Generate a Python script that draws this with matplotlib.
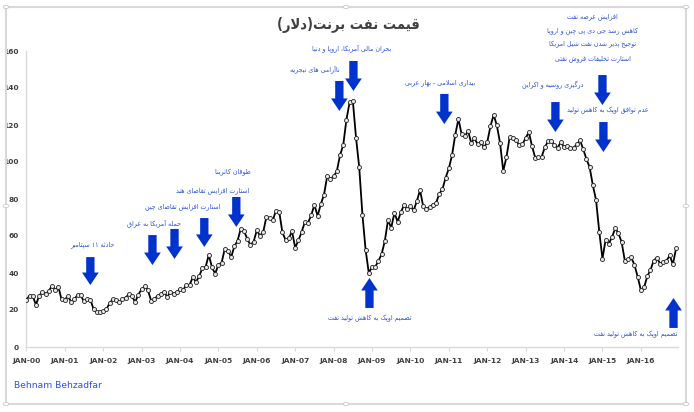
import numpy as np
import matplotlib
matplotlib.use('Agg')
import matplotlib.pyplot as plt
from matplotlib import font_manager
from matplotlib.patches import Rectangle, Circle

# Brent monthly average price (USD), Jan 2000 - Dec 2016
brent_2000 = [25.5, 27.8, 27.5, 22.8, 27.7, 29.8, 28.7, 30.2, 33.1, 31.0, 32.6, 25.7]
brent_2001 = [25.6, 27.5, 24.5, 25.7, 28.3, 27.9, 24.6, 25.7, 25.6, 20.5, 18.8, 18.7]
brent_2002 = [19.4, 20.3, 23.7, 25.7, 25.4, 24.1, 25.7, 26.7, 28.4, 27.5, 24.3, 28.3]
brent_2003 = [31.2, 32.8, 30.6, 25.0, 25.9, 27.7, 28.4, 29.9, 27.1, 29.6, 28.8, 29.8]
brent_2004 = [31.3, 30.9, 33.6, 33.6, 37.6, 35.2, 38.2, 42.7, 43.2, 49.8, 43.1, 39.6]
brent_2005 = [44.5, 45.5, 53.1, 51.9, 48.7, 54.4, 57.5, 64.0, 62.9, 58.5, 55.2, 56.9]
brent_2006 = [63.0, 60.2, 62.1, 70.3, 69.8, 68.6, 73.7, 73.2, 62.0, 57.8, 58.8, 62.5]
brent_2007 = [53.7, 57.6, 62.1, 67.5, 67.2, 71.1, 76.9, 70.8, 77.2, 82.3, 92.4, 90.9]
brent_2008 = [92.2, 95.0, 103.6, 109.1, 122.8, 132.3, 133.2, 113.2, 97.2, 71.6, 52.5, 40.0]
brent_2009 = [43.4, 43.3, 46.5, 50.2, 57.3, 68.6, 64.4, 72.5, 67.7, 72.8, 76.7, 74.5]
brent_2010 = [76.2, 73.8, 78.8, 84.8, 76.0, 74.8, 75.6, 77.0, 77.8, 82.7, 85.3, 91.5]
brent_2011 = [96.5, 103.7, 114.6, 123.3, 115.0, 113.8, 117.0, 110.2, 112.8, 109.6, 110.8, 107.9]
brent_2012 = [110.7, 119.3, 125.5, 119.8, 110.3, 95.2, 102.6, 113.4, 112.9, 111.7, 109.1, 109.5]
brent_2013 = [113.0, 116.1, 108.5, 102.3, 102.6, 102.9, 107.9, 111.3, 111.6, 109.1, 107.8, 110.8]
brent_2014 = [108.1, 108.9, 107.5, 107.8, 109.5, 111.8, 106.8, 101.6, 97.1, 87.4, 79.4, 62.3]
brent_2015 = [47.8, 58.1, 55.9, 59.5, 64.1, 61.5, 56.6, 46.5, 47.6, 48.4, 44.3, 38.0]
brent_2016 = [30.7, 32.2, 38.2, 41.6, 46.7, 48.3, 45.0, 45.8, 46.6, 49.5, 44.7, 53.3]

prices = (brent_2000 + brent_2001 + brent_2002 + brent_2003 + brent_2004 + brent_2005 +
          brent_2006 + brent_2007 + brent_2008 + brent_2009 + brent_2010 + brent_2011 +
          brent_2012 + brent_2013 + brent_2014 + brent_2015 + brent_2016)
years = list(range(2000, 2017))
tick_labels = ['JAN-%02d' % (y % 100) for y in years]
y_ticks = [0, 20, 40, 60, 80, 100, 120, 140, 160]

title_text = 'قیمت نفت برنت(دلار)'

# annotation text: (text, month index, price level, horizontal alignment)
notes = [
    ('حادثه ۱۱ سپتامبر', 20.6, 55.1, 'center'),
    ('حمله آمریکا به عراق', 40.0, 67.0, 'center'),
    ('استارت افزایش تقاضای چین', 48.8, 75.7, 'center'),
    ('استارت افزایش تقاضای هند', 58.1, 84.3, 'center'),
    ('طوفان کاترینا', 64.4, 94.1, 'center'),
    ('ناآرامی های نیجریه', 90.0, 150.3, 'center'),
    ('بحران مالی آمریکا، اروپا و دنیا', 101.6, 161.6, 'center'),
    ('تصمیم اوپک به کاهش تولید نفت', 107.2, 15.7, 'center'),
    ('بیداری اسلامی - بهار عربی', 129.4, 142.7, 'center'),
    ('درگیری روسیه و اکراین', 164.4, 141.6, 'center'),
    ('افزایش عرضه نفت', 176.9, 178.4, 'center'),
    ('کاهش رشد جی دی پی چین و اروپا', 176.9, 170.8, 'center'),
    ('توجیح پذیر شدن نفت شیل امریکا', 176.9, 163.8, 'center'),
    ('استارت تخلیفات فروش نفتی', 176.9, 155.7, 'center'),
    ('عدم توافق اوپک به کاهش تولید', 181.6, 128.1, 'center'),
    ('تصمیم اوپک به کاهش تولید نفت', 203.6, 7.0, 'right'),
]

# arrows: (month index, tail level, tip level)
arrows = [
    (20.0, 48.6, 33.5),
    (39.4, 60.5, 44.3),
    (46.3, 63.8, 47.6),
    (55.6, 69.7, 54.1),
    (65.6, 81.1, 64.9),
    (97.8, 143.8, 127.6),
    (102.2, 154.6, 138.4),
    (107.2, 21.1, 37.3),
    (130.6, 136.8, 120.5),
    (165.3, 132.4, 116.2),
    (180.0, 147.0, 130.8),
    (180.3, 121.6, 105.4),
    (202.2, 10.3, 26.5),
]

# --- minimal Persian shaping (matplotlib 3.10 has no complex text layout) ---
# char: (isolated, final, initial, medial); None -> does not join forward
FORMS = {
    'ا': (0xFE8D, 0xFE8E, None, None), 'آ': (0xFE81, 0xFE82, None, None),
    'ب': (0xFE8F, 0xFE90, 0xFE91, 0xFE92), 'پ': (0xFB56, 0xFB57, 0xFB58, 0xFB59),
    'ت': (0xFE95, 0xFE96, 0xFE97, 0xFE98), 'ث': (0xFE99, 0xFE9A, 0xFE9B, 0xFE9C),
    'ج': (0xFE9D, 0xFE9E, 0xFE9F, 0xFEA0), 'چ': (0xFB7A, 0xFB7B, 0xFB7C, 0xFB7D),
    'ح': (0xFEA1, 0xFEA2, 0xFEA3, 0xFEA4), 'خ': (0xFEA5, 0xFEA6, 0xFEA7, 0xFEA8),
    'د': (0xFEA9, 0xFEAA, None, None), 'ذ': (0xFEAB, 0xFEAC, None, None),
    'ر': (0xFEAD, 0xFEAE, None, None), 'ز': (0xFEAF, 0xFEB0, None, None),
    'ژ': (0xFB8A, 0xFB8B, None, None),
    'س': (0xFEB1, 0xFEB2, 0xFEB3, 0xFEB4), 'ش': (0xFEB5, 0xFEB6, 0xFEB7, 0xFEB8),
    'ص': (0xFEB9, 0xFEBA, 0xFEBB, 0xFEBC), 'ض': (0xFEBD, 0xFEBE, 0xFEBF, 0xFEC0),
    'ط': (0xFEC1, 0xFEC2, 0xFEC3, 0xFEC4), 'ظ': (0xFEC5, 0xFEC6, 0xFEC7, 0xFEC8),
    'ع': (0xFEC9, 0xFECA, 0xFECB, 0xFECC), 'غ': (0xFECD, 0xFECE, 0xFECF, 0xFED0),
    'ف': (0xFED1, 0xFED2, 0xFED3, 0xFED4), 'ق': (0xFED5, 0xFED6, 0xFED7, 0xFED8),
    'ک': (0xFB8E, 0xFB8F, 0xFB90, 0xFB91), 'گ': (0xFB92, 0xFB93, 0xFB94, 0xFB95),
    'ل': (0xFEDD, 0xFEDE, 0xFEDF, 0xFEE0), 'م': (0xFEE1, 0xFEE2, 0xFEE3, 0xFEE4),
    'ن': (0xFEE5, 0xFEE6, 0xFEE7, 0xFEE8), 'ه': (0xFEE9, 0xFEEA, 0xFEEB, 0xFEEC),
    'و': (0xFEED, 0xFEEE, None, None), 'ی': (0xFBFC, 0xFBFD, 0xFBFE, 0xFBFF),
}
LAM_ALEF = {'ا': (0xFEFB, 0xFEFC), 'آ': (0xFEF5, 0xFEF6)}
MIRROR = {'(': ')', ')': '('}


def fa(text):
    out = []
    i = 0
    n = len(text)
    while i < n:
        c = text[i]
        if c not in FORMS:
            out.append(c)
            i += 1
            continue
        prev = text[i - 1] if i > 0 else ''
        join_prev = prev in FORMS and FORMS[prev][2] is not None
        nxt = text[i + 1] if i + 1 < n else ''
        if c == 'ل' and nxt in LAM_ALEF:
            out.append(chr(LAM_ALEF[nxt][1 if join_prev else 0]))
            i += 2
            continue
        join_next = FORMS[c][2] is not None and nxt in FORMS
        iso, fin, ini, med = FORMS[c]
        if join_prev and join_next:
            code = med
        elif join_prev:
            code = fin
        elif join_next:
            code = ini
        else:
            code = iso
        out.append(chr(code))
        i += 1
    return ''.join(MIRROR.get(ch, ch) for ch in reversed(out))


plt.rcParams['font.family'] = ['DejaVu Sans']
narrow = font_manager.FontProperties(family='DejaVu Sans', stretch='condensed')
narrow_bold = font_manager.FontProperties(family='DejaVu Sans', stretch='condensed', weight='bold')

fig = plt.figure(figsize=(6.94, 4.12), dpi=100)
W, H = 694, 412

# chart frame (light gray) with handles
fig.patches.append(Rectangle((6 / W, 8 / H), 680 / W, 397 / H, transform=fig.transFigure,
                             fill=False, edgecolor='#d9d9d9', linewidth=1.5))
for hx, hy in [(6, 8), (6, 206), (6, 405), (686, 8), (686, 405), (346, 405), (346, 8), (686, 206)]:
    fig.patches.append(Circle((hx / W, hy / H), 0.004, transform=fig.transFigure,
                              facecolor='white', edgecolor='#c8c8c8', linewidth=0.6))

ax = fig.add_axes([25.7 / W, 1 - 347 / H, (678 - 25.7) / W, (347 - 51) / H])

x = np.arange(len(prices))
ax.plot(x, prices, color='black', linewidth=1.3, marker='o', markersize=2.9,
        markerfacecolor='#e8e8e8', markeredgecolor='#202020', markeredgewidth=0.6, zorder=3)

ax.set_xlim(-0.2, 203.6)
ax.set_ylim(0, 160)
ax.set_xticks([12 * k for k in range(len(years))])
ax.set_xticklabels(tick_labels)
ax.set_yticks(y_ticks)
ax.tick_params(axis='x', length=3, color='#d9d9d9', labelsize=5.4, labelcolor='#404040', pad=5)
ax.tick_params(axis='y', length=0, labelsize=5.3, labelcolor='#404040', pad=5)
for lab in ax.get_xticklabels() + ax.get_yticklabels():
    lab.set_fontweight('bold')
for side in ['top', 'right']:
    ax.spines[side].set_visible(False)
for side in ['left', 'bottom']:
    ax.spines[side].set_color('#d9d9d9')
    ax.spines[side].set_linewidth(1.0)

fig.text(348 / W, 1 - 25 / H, fa(title_text), ha='center', va='center',
         fontproperties=narrow_bold, fontsize=10.5, color='#404040')

text_blue = '#2b52d8'
arrow_blue = '#0033cc'
for txt, mx, lvl, align in notes:
    ax.text(mx, lvl, fa(txt), ha=align, va='center', fontproperties=narrow, fontsize=5.0,
            color=text_blue, clip_on=False)

for mx, tail, tip in arrows:
    ax.annotate('', xy=(mx, tip), xytext=(mx, tail), annotation_clip=False,
                arrowprops=dict(arrowstyle='simple,head_length=0.9,head_width=1.2,tail_width=0.6',
                                mutation_scale=10, color=arrow_blue, shrinkA=0, shrinkB=0,
                                linewidth=0))

fig.text(14 / W, 1 - 386 / H, 'Behnam Behzadfar', ha='left', va='center', fontsize=6.6,
         color=text_blue)

fig.savefig('out.png', dpi=100)
